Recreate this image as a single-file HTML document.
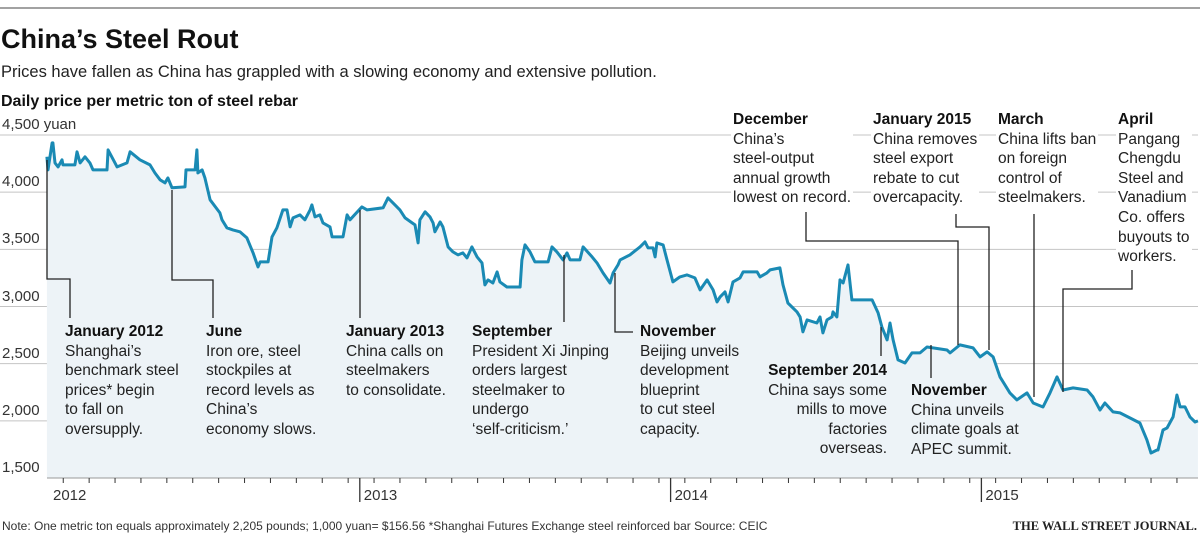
<!DOCTYPE html>
<html><head><meta charset="utf-8">
<style>
body{margin:0;background:#fff;}
#wrap{position:relative;width:1200px;height:535px;overflow:hidden;font-family:"Liberation Sans",sans-serif;color:#222;}
.ann{position:absolute;font-size:15.5px;line-height:19.6px;color:#222;background:#edf3f7;padding:0 2px;}
.ann.top{background:#fff;}
.ann.clear{background:transparent;}
.ann b{font-weight:bold;color:#111;}
.ylab{position:absolute;left:2px;font-size:15px;color:#333;background:#fff;padding-right:3px;}
</style></head>
<body>
<div id="wrap">
<svg id="chart" width="1200" height="535" style="position:absolute;left:0;top:0">
  <line x1="0" y1="8" x2="1200" y2="8" stroke="#444" stroke-width="1"/>
  <text x="1" y="48" font-family="Liberation Sans" font-weight="bold" font-size="27" fill="#111">China’s Steel Rout</text>
  <text x="1" y="77" font-family="Liberation Sans" font-size="16.5" fill="#222">Prices have fallen as China has grappled with a slowing economy and extensive pollution.</text>
  <text x="1" y="106" font-family="Liberation Sans" font-weight="bold" font-size="16" fill="#111">Daily price per metric ton of steel rebar</text>
  <g id="grid"></g>
  <g id="series"></g>
  <g id="axis"></g>
  <g id="leaders"></g>
  <text x="2" y="530" font-family="Liberation Sans" font-size="12" fill="#333">Note: One metric ton equals approximately 2,205 pounds; 1,000 yuan= $156.56   *Shanghai Futures Exchange steel reinforced bar   Source: CEIC</text>
  <text x="1197" y="530" text-anchor="end" font-family="Liberation Serif" font-weight="bold" font-size="12.5" fill="#222">THE WALL STREET JOURNAL.</text>
</svg>

<div class="ann" style="left:63px;top:322px"><b>January 2012</b><br>Shanghai’s<br>benchmark steel<br>prices* begin<br>to fall on<br>oversupply.</div>
<div class="ann" style="left:204px;top:322px"><b>June</b><br>Iron ore, steel<br>stockpiles at<br>record levels as<br>China’s<br>economy slows.</div>
<div class="ann" style="left:344px;top:322px"><b>January 2013</b><br>China calls on<br>steelmakers<br>to consolidate.</div>
<div class="ann" style="left:470px;top:322px"><b>September</b><br>President Xi Jinping<br>orders largest<br>steelmaker to<br>undergo<br>‘self-criticism.’</div>
<div class="ann" style="left:638px;top:322px"><b>November</b><br>Beijing unveils<br>development<br>blueprint<br>to cut steel<br>capacity.</div>
<div class="ann" style="left:760px;top:361px;text-align:right;width:125px"><b>September 2014</b><br>China says some<br>mills to move<br>factories<br>overseas.</div>
<div class="ann clear" style="left:909px;top:381px"><b>November</b><br>China unveils<br>climate goals at<br>APEC summit.</div>
<div class="ann top" style="left:731px;top:110px"><b>December</b><br>China’s<br>steel-output<br>annual growth<br>lowest on record.</div>
<div class="ann top" style="left:871px;top:110px"><b>January 2015</b><br>China removes<br>steel export<br>rebate to cut<br>overcapacity.</div>
<div class="ann top" style="left:996px;top:110px"><b>March</b><br>China lifts ban<br>on foreign<br>control of<br>steelmakers.</div>
<div class="ann top" style="left:1116px;top:110px"><b>April</b><br>Pangang<br>Chengdu<br>Steel and<br>Vanadium<br>Co. offers<br>buyouts to<br>workers.</div>
</div>

<script>
// months since Jan 2012
const months = [-0.08,-0.04,0.12,0.15,0.23,0.35,0.50,0.54,1.00,1.08,1.20,1.39,1.58,1.70,2.24,2.28,2.55,2.63,3.01,3.13,3.51,3.90,4.09,4.29,4.48,4.59,4.75,5.25,5.29,5.64,5.71,5.75,5.91,6.02,6.22,6.60,6.68,6.87,7.10,7.37,7.64,7.88,8.07,8.15,8.46,8.61,8.80,9.03,9.19,9.31,9.42,9.69,9.88,10.08,10.15,10.27,10.46,10.58,10.85,10.93,11.35,11.51,11.62,12.08,12.28,12.90,13.09,13.28,13.55,
13.75,14.02,14.13,14.25,14.32,14.52,14.71,14.83,14.90,15.10,15.21,15.41,15.60,15.79,15.98,16.14,16.33,16.53,16.72,16.83,16.95,17.14,17.30,17.41,17.68,18.19,18.26,18.38,18.57,18.76,19.27,19.42,19.61,19.85,20.00,20.12,20.50,20.62,20.97,21.16,21.39,21.66,21.78,21.97,22.05,22.43,22.82,23.01,23.13,23.32,23.40,23.47,23.71,23.86,24.09,24.36,24.63,24.94,25.14,25.41,25.64,25.79,25.91,26.10,26.22,26.41,26.68,26.80,27.34,27.45,27.72,27.84,28.22,28.34,28.53,28.88,29.00,
29.11,29.27,29.65,29.77,29.88,30.04,30.23,30.27,30.42,30.54,30.66,30.85,31.00,31.78,32.01,32.16,32.36,32.47,32.59,32.78,33.05,33.32,33.63,33.90,34.13,34.67,34.79,35.17,35.68,35.95,36.22,36.45,36.72,37.10,37.37,37.76,38.00,38.38,38.65,38.92,39.15,39.54,40.08,40.31,40.58,40.77,41.08,41.35,41.74,42.12,42.39,42.55,42.78,42.82,43.01,43.17,43.40,43.55,43.67,43.86,44.05,44.25,44.36];
const prices = [4309,4195,4431,4431,4256,4221,4283,4239,4239,4353,4256,4309,4256,4195,4195,4370,4256,4221,4256,4353,4283,4239,4169,4108,4081,4125,4038,4046,4195,4195,4370,4169,4195,4125,3933,3819,3758,3688,3670,3653,3600,3469,3346,3390,3390,3609,3688,3845,3845,3696,3775,3801,3758,3845,3889,3784,3801,3731,3696,3609,3609,3801,3758,3871,3845,3863,3950,3906,3845,
3775,3731,3714,3556,3758,3828,3784,3731,3653,3740,3696,3521,3478,3451,3469,3425,3521,3434,3381,3189,3233,3206,3303,3215,3171,3171,3408,3539,3478,3390,3390,3521,3478,3408,3469,3408,3408,3521,3434,3381,3294,3206,3294,3364,3408,3451,3521,3565,3513,3513,3434,3556,3539,3408,3215,3259,3276,3250,3145,3233,3145,3040,3084,3128,3040,3215,3250,3303,3303,3259,3294,3320,3338,3189,3031,2953,2909,
2778,2883,2856,2909,2769,2883,2909,2953,2909,3233,3206,3364,3058,3058,2944,2821,2708,2856,2708,2533,2506,2594,2594,2646,2638,2620,2594,2664,2638,2559,2603,2559,2384,2244,2183,2244,2156,2121,2244,2384,2270,2288,2270,2209,2095,2156,2078,2069,2025,1981,1833,1719,1745,1745,1920,1938,2034,2226,2122,2122,2034,1990,1999];
const yTicks = [1500,2000,2500,3000,3500,4000,4500];
const yTickLabels = ["1,500","2,000","2,500","3,000","3,500","4,000","4,500 yuan"];
const yearLabels = ["2012","2013","2014","2015"];

const NS="http://www.w3.org/2000/svg";
const x = m => 49 + m*25.9;
const y = v => 478 - (v-1500)*0.11433;
function mk(tag, attrs, parent){const e=document.createElementNS(NS,tag);for(const k in attrs)e.setAttribute(k,attrs[k]);parent.appendChild(e);return e;}

const grid=document.getElementById('grid');
const series=document.getElementById('series');
const axis=document.getElementById('axis');
const leaders=document.getElementById('leaders');
const wrap=document.getElementById('wrap');

let d='';
months.forEach((m,i)=>{d+=(i?'L':'M')+x(m).toFixed(1)+','+y(prices[i]).toFixed(1);});
const area=mk('path',{d:d+'L'+x(months[months.length-1]).toFixed(1)+',478L'+x(months[0]).toFixed(1)+',478Z',fill:'#edf3f7'},series);



yTicks.forEach((t,i)=>{
  if(i>0){
    const l=mk('line',{x1:0,x2:1198,y1:y(t),y2:y(t),stroke:'#c4c4c4','stroke-width':1},grid);
    
    
  }
  const lab=document.createElement('div');
  lab.className='ylab';
  lab.style.top=(y(t)-19)+'px';
  lab.textContent=yTickLabels[i];
  
  
  wrap.appendChild(lab);
});

const line=mk('path',{d:d,fill:'none',stroke:'#1a8ab4','stroke-width':3,'stroke-linejoin':'round'},series);



const ax=mk('line',{x1:47,x2:1198,y1:478,y2:478,stroke:'#999','stroke-width':1},axis);


for(let k=0;k<=44;k++){
  const xx=x(k-0.45);
  if(k%12===0 && k>0){
    const t=mk('line',{x1:x(k),x2:x(k),y1:478,y2:502,stroke:'#333','stroke-width':1.3},axis);
    
    
  }
  if(xx>50 && xx<1196){
    const t=mk('line',{x1:xx,x2:xx,y1:478,y2:483,stroke:'#333','stroke-width':1},axis);
    
    
  }
}
yearLabels.forEach((lab,i)=>{
  const tx=mk('text',{x:i===0?53:x(i*12)+4,y:500,'font-family':'Liberation Sans','font-size':15,fill:'#333'},axis);
  tx.textContent=lab;
  
  
});

const leaderPaths=[
 ['leader-jan-2012','M47,160V279H70V318'],
 ['leader-june-2012','M172,190V280H213V318'],
 ['leader-jan-2013','M360,210V318'],
 ['leader-sep-2013','M564,255V332H557'],
 ['leader-nov-2013','M615,273V332H633'],
 ['leader-sep-2014','M881,327V356'],
 ['leader-nov-2014','M931,345V378'],
 ['leader-dec-2014','M806,212V241H958V345'],
 ['leader-jan-2015','M956,214V227H989V350'],
 ['leader-mar-2015','M1034,214V397'],
 ['leader-apr-2015','M1132,270V289H1063V392']
];
leaderPaths.forEach(p=>{
  const e=mk('path',{d:p[1],fill:'none',stroke:'#222','stroke-width':1.3},leaders);
  
  
});
</script>
</body></html>
